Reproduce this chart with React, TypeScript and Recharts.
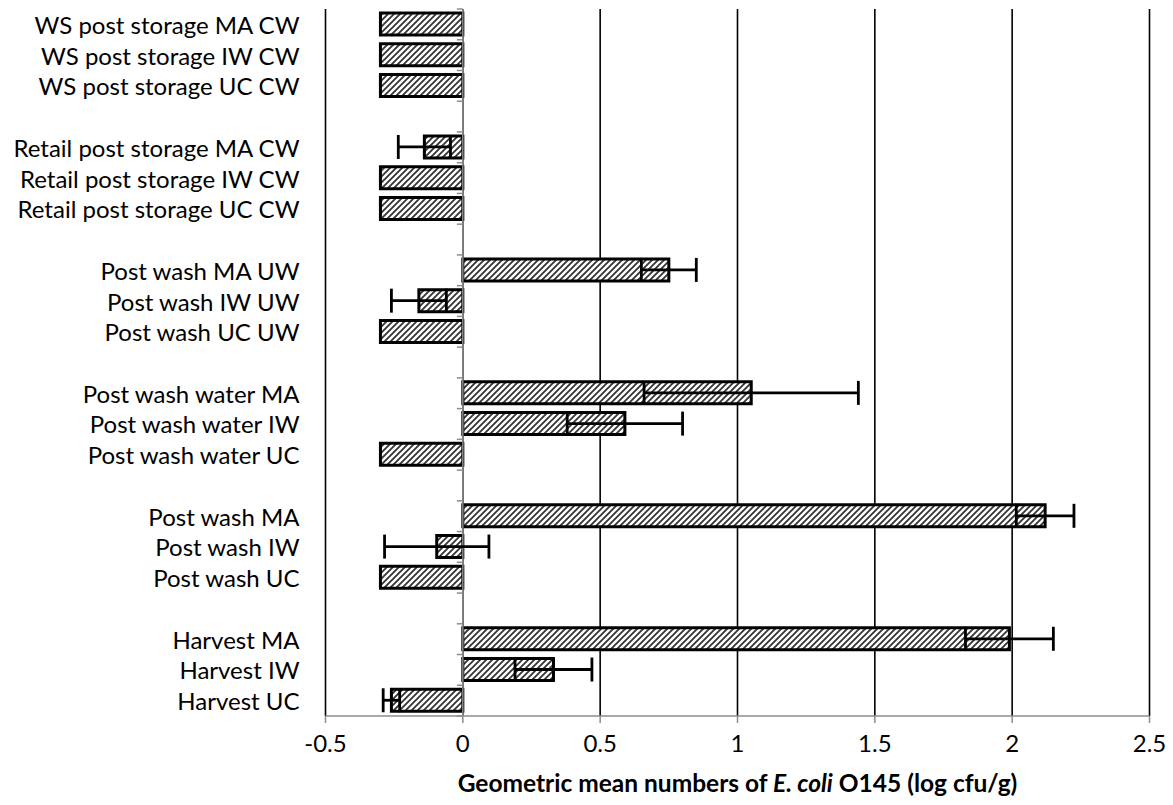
import { BarChart, Bar, XAxis, YAxis, CartesianGrid, ReferenceLine, ErrorBar } from 'recharts';

// rows top to bottom, '' = spacer row between groups
const categories = [
  'WS post storage MA CW',
  'WS post storage IW CW',
  'WS post storage UC CW',
  '',
  'Retail post storage MA CW',
  'Retail post storage IW CW',
  'Retail post storage UC CW',
  '',
  'Post wash MA UW',
  'Post wash IW UW',
  'Post wash UC UW',
  '',
  'Post wash water MA',
  'Post wash water IW',
  'Post wash water UC',
  '',
  'Post wash MA',
  'Post wash IW',
  'Post wash UC',
  '',
  'Harvest MA',
  'Harvest IW',
  'Harvest UC',
];

const means = [
  -0.3, -0.3, -0.3, null,
  -0.14, -0.3, -0.3, null,
  0.75, -0.16, -0.3, null,
  1.05, 0.59, -0.3, null,
  2.12, -0.095, -0.3, null,
  1.99, 0.33, -0.26,
];

const errors = [
  null, null, null, null,
  0.095, null, null, null,
  0.1, 0.1, null, null,
  0.39, 0.21, null, null,
  0.105, 0.19, null, null,
  0.16, 0.14, 0.03,
];

const xTicks = [-0.5, 0, 0.5, 1, 1.5, 2, 2.5];

const data = categories.map((label, i) => ({ label, mean: means[i], err: errors[i] }));

// chart layout
const W = 1173;
const H = 805;
const MARGIN = { top: 9, right: 23.5, left: 0, bottom: 29 };
const Y_AXIS_W = 325.5;
const X_AXIS_H = 60;
const PLOT_LEFT = MARGIN.left + Y_AXIS_W;
const PLOT_W = W - PLOT_LEFT - MARGIN.right;
const PLOT_H = H - MARGIN.top - MARGIN.bottom - X_AXIS_H;
const BAND = PLOT_H / categories.length;
const ZERO_X = PLOT_LEFT + ((0 - xTicks[0]) / (xTicks[xTicks.length - 1] - xTicks[0])) * PLOT_W;

const FONT = 'Lato, "Open Sans", sans-serif';
const FONT_SIZE = 24;

function CategoryTick(props: any) {
  const { x, y, payload, index } = props;
  const top = y - BAND / 2;
  return (
    <g>
      <text x={x - 26} y={y} textAnchor="end" dominantBaseline="central" fontSize={FONT_SIZE} fill="#000" fontFamily={FONT}>
        {payload.value}
      </text>
      <line x1={ZERO_X - 6} x2={ZERO_X} y1={top} y2={top} stroke="#8c8c8c" strokeWidth={1.5} />
      {index === categories.length - 1 && (
        <line x1={ZERO_X - 6} x2={ZERO_X} y1={top + BAND} y2={top + BAND} stroke="#8c8c8c" strokeWidth={1.5} />
      )}
    </g>
  );
}

function AxisTitle(props: any) {
  const { viewBox } = props;
  const cx = viewBox.x + viewBox.width / 2;
  return (
    <text x={cx} y={782} textAnchor="middle" dominantBaseline="central" fontSize={24.5} fontWeight="bold" fill="#000" fontFamily={FONT}>
      <tspan>Geometric mean numbers of </tspan>
      <tspan fontStyle="italic">E. coli</tspan>
      <tspan> O145 (log cfu/g)</tspan>
    </text>
  );
}

export default function App() {
  return (
    <div style={{ position: 'absolute', left: 0, top: 0, width: W, height: H, background: '#fff' }}>
      <BarChart width={W} height={H} data={data} layout="vertical" margin={MARGIN}>
        <defs>
          <pattern id="hatch" patternUnits="userSpaceOnUse" width="6" height="6">
            <rect width="6" height="6" fill="#fff" />
            <path d="M0,6 L6,0 M-1.5,1.5 L1.5,-1.5 M4.5,7.5 L7.5,4.5" stroke="#333" strokeWidth={1.8} />
          </pattern>
        </defs>
        <CartesianGrid horizontal={false} vertical stroke="#000" strokeWidth={1.6} />
        <XAxis
          type="number"
          domain={[-0.5, 2.5]}
          ticks={xTicks}
          height={X_AXIS_H}
          axisLine={{ stroke: '#8c8c8c', strokeWidth: 1.5 }}
          tickLine={{ stroke: '#8c8c8c', strokeWidth: 1.5 }}
          tickSize={7}
          tickMargin={12}
          tick={{ fontSize: FONT_SIZE, fill: '#000', fontFamily: FONT }}
          label={<AxisTitle />}
        />
        <YAxis
          type="category"
          dataKey="label"
          allowDuplicatedCategory
          width={Y_AXIS_W}
          axisLine={false}
          tickLine={false}
          tickSize={0}
          tickMargin={0}
          interval={0}
          tick={<CategoryTick />}
        />
        <ReferenceLine x={0} stroke="#8c8c8c" strokeWidth={1.5} />
        <Bar dataKey="mean" fill="url(#hatch)" stroke="#000" strokeWidth={3} barSize={22} isAnimationActive={false}>
          <ErrorBar dataKey="err" direction="x" stroke="#000" strokeWidth={2.8} width={12} />
        </Bar>
      </BarChart>
    </div>
  );
}
